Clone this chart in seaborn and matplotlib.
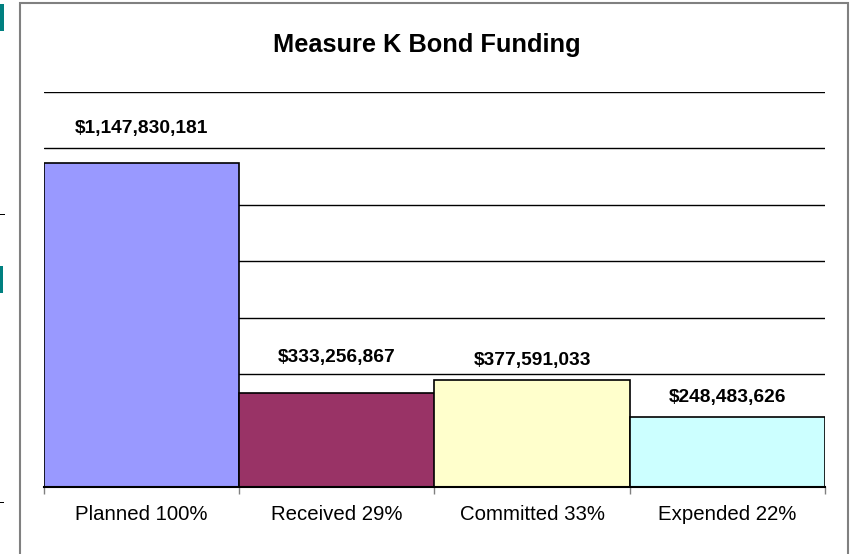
import matplotlib
matplotlib.use("Agg")
import matplotlib.pyplot as plt
import seaborn as sns
import pandas as pd
from matplotlib.patches import Rectangle
from matplotlib.ticker import MultipleLocator, FixedLocator

categories = ["Planned 100%", "Received 29%", "Committed 33%", "Expended 22%"]
amounts = [1147830181, 333256867, 377591033, 248483626]
bar_colors = ["#9999FF", "#993366", "#FFFFCC", "#CCFFFF"]
title = "Measure K Bond Funding"

df = pd.DataFrame({"category": categories, "amount": amounts})

sns.set_theme(style="white")
plt.rcParams["font.family"] = ["Liberation Sans", "DejaVu Sans"]

W, H = 860, 554
fig = plt.figure(figsize=(W / 100, H / 100), dpi=100)
ax = fig.add_axes([44 / W, (H - 487) / H, (825 - 44) / W, (487 - 92) / H])

sns.barplot(data=df, x="category", y="amount", hue="category",
            palette=bar_colors, saturation=1, width=1.0, edgecolor="black",
            linewidth=1.2, legend=False, ax=ax, zorder=3)

ax.set_ylim(0, 1_400_000_000)
ax.set_xlim(-0.5, len(categories) - 0.5)
ax.yaxis.set_major_locator(MultipleLocator(200_000_000))
ax.grid(axis="y", color="black", linewidth=1.0, zorder=0)
ax.grid(axis="x", visible=False)
ax.set_yticklabels([])
ax.tick_params(axis="y", length=0)

for side in ("left", "right", "top"):
    ax.spines[side].set_visible(False)
ax.spines["bottom"].set_color("black")
ax.spines["bottom"].set_linewidth(1.5)
ax.spines["bottom"].set_zorder(4)

ax.set_xlabel("")
ax.set_ylabel("")
ax.tick_params(axis="x", which="major", length=0, pad=13, labelsize=14.7, colors="black")
ax.xaxis.set_minor_locator(FixedLocator([i - 0.5 for i in range(len(categories) + 1)]))
ax.tick_params(axis="x", which="minor", length=5, width=1, color="#808080", bottom=True)

# value labels above each bar
offsets = [35, 35, 20, 19]
for i, (v, off) in enumerate(zip(amounts, offsets)):
    ax.annotate(f"${v:,.0f}", xy=(i, v), xytext=(0, off), textcoords="offset pixels",
                ha="center", va="center", fontsize=13.8, fontweight="bold", color="black")

fig.text(427 / W, 1 - 45 / H, title, ha="center", va="center",
         fontsize=18.3, fontweight="bold", color="black")

# chart frame (runs off the bottom edge)
fig.patches.append(Rectangle((19.5 / W, -10 / H), (847.5 - 19.5) / W, (H + 10 - 2.5) / H,
                             transform=fig.transFigure, fill=False,
                             edgecolor="#808080", linewidth=1.5))

# slivers along the left edge
fig.patches.append(Rectangle((0, 1 - 31 / H), 4 / W, 27 / H, transform=fig.transFigure,
                             facecolor="#008080", edgecolor="none"))
fig.patches.append(Rectangle((0, 1 - 293 / H), 2.5 / W, 27 / H, transform=fig.transFigure,
                             facecolor="#008080", edgecolor="none"))
fig.patches.append(Rectangle((0, 1 - 214.5 / H), 5 / W, 1 / H, transform=fig.transFigure,
                             facecolor="black", edgecolor="none"))
fig.patches.append(Rectangle((0, 1 - 502.5 / H), 4 / W, 1 / H, transform=fig.transFigure,
                             facecolor="black", edgecolor="none"))

fig.savefig("out.png", dpi=100)
